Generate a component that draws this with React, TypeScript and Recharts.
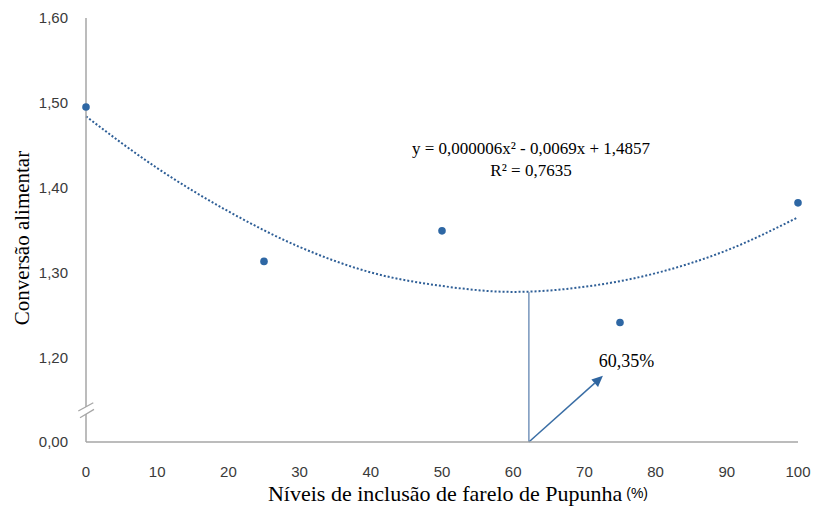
import React from "react";
import {
  ComposedChart,
  Line,
  Scatter,
  XAxis,
  YAxis,
  ReferenceLine,
  ReferenceDot,
} from "recharts";

// observed means
const levels = [0, 25, 50, 75, 100];
const conversion = [1.495, 1.313, 1.349, 1.241, 1.382];

// polynomial trendline
const trendX = [0, 10, 20, 30, 40, 50, 60, 70, 80, 90, 100];
const trendY = [1.484, 1.423, 1.372, 1.33, 1.3, 1.284, 1.277, 1.283, 1.299, 1.326, 1.365];

const xTicks = [0, 10, 20, 30, 40, 50, 60, 70, 80, 90, 100];
const yTicks = [1.1, 1.2, 1.3, 1.4, 1.5, 1.6];
const yTickLabels = ["0,00", "1,20", "1,30", "1,40", "1,50", "1,60"];

const optimumX = 62.2;
const optimumY = 1.277;
const arrowTip = { x: 72.6, y: 1.178 };
const equation = "y = 0,000006x² - 0,0069x + 1,4857";
const rSquared = "R² = 0,7635";
const optimumLabel = "60,35%";

const pointData = levels.map((x, i) => ({ x, y: conversion[i] }));
const trendData = trendX.map((x, i) => ({ x, y: trendY[i] }));

const serif = "'Liberation Serif', 'Times New Roman', serif";
const sans = "'Liberation Sans', Arial, sans-serif";
const axisGray = "#a6a6a6";
const pointBlue = "#2e67a4";
const trendBlue = "#2f5f97";

const serifStyle = (size: number): React.CSSProperties => ({
  fontFamily: serif,
  fontSize: size,
  fill: "#000",
});

const Arrow = (p: any) => {
  const { x1, y1, x2, y2 } = p;
  const ang = Math.atan2(y2 - y1, x2 - x1);
  const len = 11;
  const w = 5;
  const bx = x2 - len * Math.cos(ang);
  const by = y2 - len * Math.sin(ang);
  const px = -Math.sin(ang) * w;
  const py = Math.cos(ang) * w;
  return (
    <g>
      <line x1={x1} y1={y1} x2={bx} y2={by} stroke="#3a6ea5" strokeWidth={1.5} />
      <polygon
        points={`${x2},${y2} ${bx + px},${by + py} ${bx - px},${by - py}`}
        fill="#2f65a0"
      />
    </g>
  );
};

const AxisBreak = (p: any) => {
  const { cx, cy } = p;
  return (
    <g>
      <polygon
        points={`${cx - 7.7},${cy + 1} ${cx + 7.3},${cy - 7.3} ${cx + 8},${cy - 0.7} ${cx - 6},${cy + 7.7}`}
        fill="#fff"
      />
      <line x1={cx - 7.7} y1={cy + 1} x2={cx + 7.3} y2={cy - 7.3} stroke={axisGray} strokeWidth={1.3} />
      <line x1={cx - 6} y1={cy + 7.7} x2={cx + 8} y2={cy - 0.7} stroke={axisGray} strokeWidth={1.3} />
    </g>
  );
};

const EquationText = (p: any) => (
  <text x={p.cx} y={p.cy} textAnchor="middle" style={serifStyle(17)}>
    <tspan x={p.cx} dy="0.35em">{equation}</tspan>
    <tspan x={p.cx} dy="1.3em">{rSquared}</tspan>
  </text>
);

const OptimumText = (p: any) => (
  <text x={p.cx} y={p.cy} dy="0.35em" textAnchor="middle" style={serifStyle(18)}>
    {optimumLabel}
  </text>
);

const Dot = (p: any) => <circle cx={p.cx} cy={p.cy} r={3.8} fill={pointBlue} />;

export default function App() {
  return (
    <div style={{ position: "absolute", left: 0, top: 0, background: "#fff" }}>
      <ComposedChart
        width={814}
        height={507}
        margin={{ top: 18, right: 16, bottom: 0, left: 0 }}
      >
        <XAxis
          type="number"
          dataKey="x"
          domain={[0, 100]}
          ticks={xTicks}
          interval={0}
          tickLine={false}
          tickSize={22}
          tickMargin={2}
          height={65}
          axisLine={{ stroke: axisGray, strokeWidth: 1.5 }}
          tick={{ fontFamily: sans, fontSize: 15, fill: "#3a3a3a" }}
          label={(props: any) => {
            const vb = props.viewBox;
            return (
              <text
                x={vb.x + vb.width / 2 + 16}
                y={493}
                textAnchor="middle"
                dominantBaseline="central"
                style={serifStyle(22)}
              >
                Níveis de inclusão de farelo de Pupunha
                <tspan style={{ fontFamily: sans, fontSize: 14 }}>{" (%)"}</tspan>
              </text>
            );
          }}
        />
        <YAxis
          type="number"
          dataKey="y"
          domain={[1.1, 1.6]}
          ticks={yTicks}
          interval={0}
          allowDataOverflow
          width={86}
          tickLine={false}
          tickSize={16}
          tickMargin={2}
          axisLine={{ stroke: axisGray, strokeWidth: 1.5 }}
          tick={{ fontFamily: sans, fontSize: 15, fill: "#3a3a3a" }}
          tickFormatter={(v: number) => {
            const i = yTicks.findIndex((t) => Math.abs(t - v) < 1e-6);
            return i >= 0 ? yTickLabels[i] : "";
          }}
          label={(props: any) => {
            const vb = props.viewBox;
            const cx = 22;
            const cy = vb.y + vb.height / 2 + 8;
            return (
              <text
                x={cx}
                y={cy}
                transform={`rotate(-90, ${cx}, ${cy})`}
                textAnchor="middle"
                dominantBaseline="central"
                style={serifStyle(21)}
              >
                Conversão alimentar
              </text>
            );
          }}
        />
        <ReferenceDot x={0} y={1.1377} r={0} shape={AxisBreak} ifOverflow="visible" />
        <Line
          data={trendData}
          dataKey="y"
          type="monotone"
          stroke={trendBlue}
          strokeWidth={2}
          strokeDasharray="2 2"
          dot={false}
          activeDot={false}
          isAnimationActive={false}
        />
        <ReferenceLine
          segment={[
            { x: optimumX, y: 1.1 },
            { x: optimumX, y: optimumY },
          ]}
          stroke="#7f9cc0"
          strokeWidth={1.6}
        />
        <ReferenceLine
          segment={[
            { x: optimumX, y: 1.1 },
            { x: arrowTip.x, y: arrowTip.y },
          ]}
          shape={Arrow}
        />
        <Scatter data={pointData} dataKey="y" shape={Dot} isAnimationActive={false} />
        <ReferenceDot x={62.5} y={1.4467} r={0} shape={EquationText} />
        <ReferenceDot x={75.9} y={1.196} r={0} shape={OptimumText} />
      </ComposedChart>
    </div>
  );
}
